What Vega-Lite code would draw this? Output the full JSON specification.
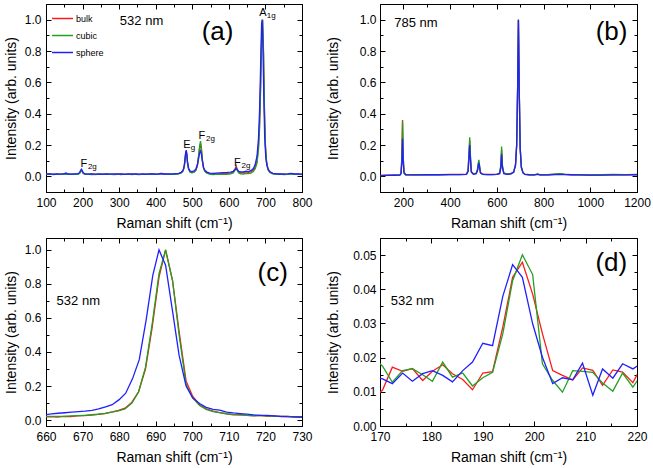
{
"$schema": "https://vega.github.io/schema/vega-lite/v6.json",
"background": "white",
"padding": {"left": 3, "top": 3, "right": 0, "bottom": 0},
"config": {
  "font": "Liberation Sans",
  "view": {"stroke": "black", "strokeWidth": 1},
  "axis": {"grid": false, "domainColor": "black", "tickColor": "black", "labelColor": "black", "titleColor": "black", "labelFontSize": 12, "titleFontSize": 14, "titleFontWeight": "normal", "labelFlush": false, "labelOverlap": false, "labelFont": "Liberation Sans", "titleFont": "Liberation Sans", "labelPadding": 10, "titlePadding": 6}
},
"datasets": {
"a": [
{"s":"bulk","x":100,"y":0.012},{"s":"bulk","x":110,"y":0.015},{"s":"bulk","x":120,"y":0.011},{"s":"bulk","x":130,"y":0.014},{"s":"bulk","x":140,"y":0.013},{"s":"bulk","x":150,"y":0.016},{"s":"bulk","x":160,"y":0.012},{"s":"bulk","x":170,"y":0.014},{"s":"bulk","x":180,"y":0.013},{"s":"bulk","x":188,"y":0.015},{"s":"bulk","x":192,"y":0.021},{"s":"bulk","x":195,"y":0.034},{"s":"bulk","x":197,"y":0.040},{"s":"bulk","x":199,"y":0.032},{"s":"bulk","x":202,"y":0.019},{"s":"bulk","x":207,"y":0.013},{"s":"bulk","x":215,"y":0.012},{"s":"bulk","x":225,"y":0.015},{"s":"bulk","x":235,"y":0.011},{"s":"bulk","x":245,"y":0.014},{"s":"bulk","x":255,"y":0.012},{"s":"bulk","x":265,"y":0.015},{"s":"bulk","x":275,"y":0.012},{"s":"bulk","x":285,"y":0.013},{"s":"bulk","x":295,"y":0.016},{"s":"bulk","x":305,"y":0.011},{"s":"bulk","x":315,"y":0.014},{"s":"bulk","x":325,"y":0.012},{"s":"bulk","x":335,"y":0.015},{"s":"bulk","x":345,"y":0.013},{"s":"bulk","x":355,"y":0.011},{"s":"bulk","x":365,"y":0.014},{"s":"bulk","x":375,"y":0.012},{"s":"bulk","x":385,"y":0.015},{"s":"bulk","x":395,"y":0.013},{"s":"bulk","x":405,"y":0.014},{"s":"bulk","x":415,"y":0.017},{"s":"bulk","x":425,"y":0.012},{"s":"bulk","x":435,"y":0.014},{"s":"bulk","x":445,"y":0.013},{"s":"bulk","x":455,"y":0.015},{"s":"bulk","x":463,"y":0.017},{"s":"bulk","x":470,"y":0.023},{"s":"bulk","x":475,"y":0.036},{"s":"bulk","x":478,"y":0.062},{"s":"bulk","x":480,"y":0.10},{"s":"bulk","x":482,"y":0.148},{"s":"bulk","x":483.5,"y":0.160},{"s":"bulk","x":485,"y":0.138},{"s":"bulk","x":487,"y":0.085},{"s":"bulk","x":490,"y":0.046},{"s":"bulk","x":494,"y":0.029},{"s":"bulk","x":499,"y":0.024},{"s":"bulk","x":505,"y":0.028},{"s":"bulk","x":510,"y":0.040},{"s":"bulk","x":514,"y":0.068},{"s":"bulk","x":517,"y":0.118},{"s":"bulk","x":520,"y":0.178},{"s":"bulk","x":522.5,"y":0.205},{"s":"bulk","x":525,"y":0.168},{"s":"bulk","x":528,"y":0.095},{"s":"bulk","x":531,"y":0.052},{"s":"bulk","x":535,"y":0.032},{"s":"bulk","x":540,"y":0.022},{"s":"bulk","x":548,"y":0.016},{"s":"bulk","x":556,"y":0.012},{"s":"bulk","x":565,"y":0.015},{"s":"bulk","x":575,"y":0.016},{"s":"bulk","x":585,"y":0.018},{"s":"bulk","x":595,"y":0.019},{"s":"bulk","x":605,"y":0.021},{"s":"bulk","x":612,"y":0.029},{"s":"bulk","x":617,"y":0.048},{"s":"bulk","x":620,"y":0.066},{"s":"bulk","x":623,"y":0.045},{"s":"bulk","x":627,"y":0.029},{"s":"bulk","x":632,"y":0.023},{"s":"bulk","x":640,"y":0.024},{"s":"bulk","x":647,"y":0.029},{"s":"bulk","x":653,"y":0.026},{"s":"bulk","x":660,"y":0.029},{"s":"bulk","x":667,"y":0.040},{"s":"bulk","x":672,"y":0.058},{"s":"bulk","x":677,"y":0.10},{"s":"bulk","x":681,"y":0.19},{"s":"bulk","x":684,"y":0.34},{"s":"bulk","x":687,"y":0.60},{"s":"bulk","x":689.5,"y":0.88},{"s":"bulk","x":692,"y":1.0},{"s":"bulk","x":694.5,"y":0.80},{"s":"bulk","x":697,"y":0.44},{"s":"bulk","x":700,"y":0.19},{"s":"bulk","x":703,"y":0.095},{"s":"bulk","x":707,"y":0.048},{"s":"bulk","x":712,"y":0.028},{"s":"bulk","x":720,"y":0.019},{"s":"bulk","x":730,"y":0.015},{"s":"bulk","x":740,"y":0.012},{"s":"bulk","x":750,"y":0.015},{"s":"bulk","x":760,"y":0.012},{"s":"bulk","x":770,"y":0.017},{"s":"bulk","x":780,"y":0.013},{"s":"bulk","x":790,"y":0.014},{"s":"bulk","x":800,"y":0.011},
{"s":"cubic","x":100,"y":0.014},{"s":"cubic","x":110,"y":0.012},{"s":"cubic","x":120,"y":0.016},{"s":"cubic","x":130,"y":0.013},{"s":"cubic","x":140,"y":0.012},{"s":"cubic","x":150,"y":0.014},{"s":"cubic","x":160,"y":0.013},{"s":"cubic","x":170,"y":0.012},{"s":"cubic","x":180,"y":0.015},{"s":"cubic","x":188,"y":0.013},{"s":"cubic","x":192,"y":0.019},{"s":"cubic","x":195,"y":0.031},{"s":"cubic","x":197,"y":0.037},{"s":"cubic","x":199,"y":0.030},{"s":"cubic","x":202,"y":0.018},{"s":"cubic","x":207,"y":0.012},{"s":"cubic","x":215,"y":0.014},{"s":"cubic","x":225,"y":0.011},{"s":"cubic","x":235,"y":0.013},{"s":"cubic","x":245,"y":0.012},{"s":"cubic","x":255,"y":0.015},{"s":"cubic","x":265,"y":0.012},{"s":"cubic","x":275,"y":0.014},{"s":"cubic","x":285,"y":0.011},{"s":"cubic","x":295,"y":0.013},{"s":"cubic","x":305,"y":0.015},{"s":"cubic","x":315,"y":0.012},{"s":"cubic","x":325,"y":0.014},{"s":"cubic","x":335,"y":0.011},{"s":"cubic","x":345,"y":0.014},{"s":"cubic","x":355,"y":0.013},{"s":"cubic","x":365,"y":0.012},{"s":"cubic","x":375,"y":0.015},{"s":"cubic","x":385,"y":0.012},{"s":"cubic","x":395,"y":0.014},{"s":"cubic","x":405,"y":0.012},{"s":"cubic","x":415,"y":0.019},{"s":"cubic","x":425,"y":0.013},{"s":"cubic","x":435,"y":0.012},{"s":"cubic","x":445,"y":0.015},{"s":"cubic","x":455,"y":0.013},{"s":"cubic","x":463,"y":0.015},{"s":"cubic","x":470,"y":0.021},{"s":"cubic","x":475,"y":0.034},{"s":"cubic","x":478,"y":0.060},{"s":"cubic","x":480,"y":0.098},{"s":"cubic","x":482,"y":0.145},{"s":"cubic","x":483.5,"y":0.157},{"s":"cubic","x":485,"y":0.135},{"s":"cubic","x":487,"y":0.082},{"s":"cubic","x":490,"y":0.043},{"s":"cubic","x":494,"y":0.026},{"s":"cubic","x":499,"y":0.022},{"s":"cubic","x":505,"y":0.027},{"s":"cubic","x":510,"y":0.041},{"s":"cubic","x":514,"y":0.072},{"s":"cubic","x":517,"y":0.13},{"s":"cubic","x":520,"y":0.195},{"s":"cubic","x":522.5,"y":0.225},{"s":"cubic","x":525,"y":0.18},{"s":"cubic","x":528,"y":0.098},{"s":"cubic","x":531,"y":0.05},{"s":"cubic","x":535,"y":0.030},{"s":"cubic","x":540,"y":0.020},{"s":"cubic","x":548,"y":0.014},{"s":"cubic","x":556,"y":0.011},{"s":"cubic","x":565,"y":0.013},{"s":"cubic","x":575,"y":0.012},{"s":"cubic","x":585,"y":0.014},{"s":"cubic","x":595,"y":0.013},{"s":"cubic","x":605,"y":0.015},{"s":"cubic","x":612,"y":0.022},{"s":"cubic","x":617,"y":0.040},{"s":"cubic","x":620,"y":0.055},{"s":"cubic","x":623,"y":0.038},{"s":"cubic","x":627,"y":0.022},{"s":"cubic","x":632,"y":0.016},{"s":"cubic","x":640,"y":0.015},{"s":"cubic","x":647,"y":0.019},{"s":"cubic","x":653,"y":0.017},{"s":"cubic","x":660,"y":0.020},{"s":"cubic","x":667,"y":0.030},{"s":"cubic","x":672,"y":0.048},{"s":"cubic","x":677,"y":0.085},{"s":"cubic","x":681,"y":0.17},{"s":"cubic","x":684,"y":0.31},{"s":"cubic","x":687,"y":0.57},{"s":"cubic","x":689.5,"y":0.86},{"s":"cubic","x":692.5,"y":1.0},{"s":"cubic","x":695,"y":0.78},{"s":"cubic","x":697.5,"y":0.42},{"s":"cubic","x":700,"y":0.20},{"s":"cubic","x":703,"y":0.09},{"s":"cubic","x":707,"y":0.042},{"s":"cubic","x":712,"y":0.024},{"s":"cubic","x":720,"y":0.015},{"s":"cubic","x":730,"y":0.012},{"s":"cubic","x":740,"y":0.014},{"s":"cubic","x":750,"y":0.011},{"s":"cubic","x":760,"y":0.013},{"s":"cubic","x":770,"y":0.016},{"s":"cubic","x":780,"y":0.012},{"s":"cubic","x":790,"y":0.013},{"s":"cubic","x":800,"y":0.012},
{"s":"sphere","x":100,"y":0.015},{"s":"sphere","x":110,"y":0.016},{"s":"sphere","x":120,"y":0.013},{"s":"sphere","x":130,"y":0.015},{"s":"sphere","x":140,"y":0.014},{"s":"sphere","x":150,"y":0.017},{"s":"sphere","x":155,"y":0.021},{"s":"sphere","x":160,"y":0.015},{"s":"sphere","x":170,"y":0.014},{"s":"sphere","x":180,"y":0.016},{"s":"sphere","x":188,"y":0.017},{"s":"sphere","x":192,"y":0.025},{"s":"sphere","x":195,"y":0.040},{"s":"sphere","x":197,"y":0.046},{"s":"sphere","x":199,"y":0.037},{"s":"sphere","x":202,"y":0.022},{"s":"sphere","x":207,"y":0.015},{"s":"sphere","x":215,"y":0.014},{"s":"sphere","x":225,"y":0.016},{"s":"sphere","x":235,"y":0.014},{"s":"sphere","x":245,"y":0.015},{"s":"sphere","x":255,"y":0.013},{"s":"sphere","x":265,"y":0.016},{"s":"sphere","x":275,"y":0.014},{"s":"sphere","x":285,"y":0.015},{"s":"sphere","x":295,"y":0.014},{"s":"sphere","x":305,"y":0.016},{"s":"sphere","x":315,"y":0.013},{"s":"sphere","x":325,"y":0.015},{"s":"sphere","x":335,"y":0.014},{"s":"sphere","x":345,"y":0.016},{"s":"sphere","x":355,"y":0.014},{"s":"sphere","x":365,"y":0.015},{"s":"sphere","x":375,"y":0.013},{"s":"sphere","x":385,"y":0.016},{"s":"sphere","x":395,"y":0.015},{"s":"sphere","x":405,"y":0.014},{"s":"sphere","x":415,"y":0.018},{"s":"sphere","x":425,"y":0.015},{"s":"sphere","x":435,"y":0.016},{"s":"sphere","x":445,"y":0.014},{"s":"sphere","x":455,"y":0.017},{"s":"sphere","x":463,"y":0.019},{"s":"sphere","x":470,"y":0.026},{"s":"sphere","x":475,"y":0.040},{"s":"sphere","x":478,"y":0.068},{"s":"sphere","x":480,"y":0.11},{"s":"sphere","x":482,"y":0.155},{"s":"sphere","x":483.5,"y":0.167},{"s":"sphere","x":485,"y":0.145},{"s":"sphere","x":487,"y":0.092},{"s":"sphere","x":490,"y":0.052},{"s":"sphere","x":494,"y":0.034},{"s":"sphere","x":499,"y":0.030},{"s":"sphere","x":505,"y":0.035},{"s":"sphere","x":510,"y":0.048},{"s":"sphere","x":514,"y":0.075},{"s":"sphere","x":517,"y":0.11},{"s":"sphere","x":520,"y":0.148},{"s":"sphere","x":522.5,"y":0.162},{"s":"sphere","x":525,"y":0.14},{"s":"sphere","x":528,"y":0.09},{"s":"sphere","x":531,"y":0.055},{"s":"sphere","x":535,"y":0.037},{"s":"sphere","x":540,"y":0.027},{"s":"sphere","x":548,"y":0.021},{"s":"sphere","x":556,"y":0.018},{"s":"sphere","x":565,"y":0.020},{"s":"sphere","x":575,"y":0.022},{"s":"sphere","x":585,"y":0.024},{"s":"sphere","x":595,"y":0.025},{"s":"sphere","x":605,"y":0.027},{"s":"sphere","x":612,"y":0.032},{"s":"sphere","x":617,"y":0.043},{"s":"sphere","x":620,"y":0.052},{"s":"sphere","x":623,"y":0.042},{"s":"sphere","x":627,"y":0.032},{"s":"sphere","x":632,"y":0.028},{"s":"sphere","x":640,"y":0.029},{"s":"sphere","x":647,"y":0.033},{"s":"sphere","x":653,"y":0.030},{"s":"sphere","x":660,"y":0.036},{"s":"sphere","x":667,"y":0.05},{"s":"sphere","x":672,"y":0.075},{"s":"sphere","x":677,"y":0.13},{"s":"sphere","x":681,"y":0.24},{"s":"sphere","x":684,"y":0.42},{"s":"sphere","x":687,"y":0.72},{"s":"sphere","x":689.5,"y":0.97},{"s":"sphere","x":691,"y":1.0},{"s":"sphere","x":693,"y":0.86},{"s":"sphere","x":695.5,"y":0.52},{"s":"sphere","x":698,"y":0.25},{"s":"sphere","x":701,"y":0.12},{"s":"sphere","x":704,"y":0.07},{"s":"sphere","x":708,"y":0.042},{"s":"sphere","x":713,"y":0.027},{"s":"sphere","x":720,"y":0.019},{"s":"sphere","x":730,"y":0.016},{"s":"sphere","x":740,"y":0.015},{"s":"sphere","x":750,"y":0.014},{"s":"sphere","x":760,"y":0.016},{"s":"sphere","x":770,"y":0.019},{"s":"sphere","x":780,"y":0.015},{"s":"sphere","x":790,"y":0.016},{"s":"sphere","x":800,"y":0.014}
],
"b": [
{"s":"bulk","x":100,"y":0.006},{"s":"bulk","x":130,"y":0.007},{"s":"bulk","x":160,"y":0.008},{"s":"bulk","x":185,"y":0.009},{"s":"bulk","x":190,"y":0.02},{"s":"bulk","x":193.5,"y":0.12},{"s":"bulk","x":196.5,"y":0.36},{"s":"bulk","x":199.5,"y":0.12},{"s":"bulk","x":203,"y":0.025},{"s":"bulk","x":210,"y":0.011},{"s":"bulk","x":250,"y":0.01},{"s":"bulk","x":300,"y":0.011},{"s":"bulk","x":350,"y":0.011},{"s":"bulk","x":400,"y":0.012},{"s":"bulk","x":440,"y":0.012},{"s":"bulk","x":470,"y":0.014},{"s":"bulk","x":477,"y":0.035},{"s":"bulk","x":480.5,"y":0.13},{"s":"bulk","x":484,"y":0.23},{"s":"bulk","x":487.5,"y":0.11},{"s":"bulk","x":491,"y":0.03},{"s":"bulk","x":500,"y":0.016},{"s":"bulk","x":512,"y":0.02},{"s":"bulk","x":518,"y":0.045},{"s":"bulk","x":521,"y":0.08},{"s":"bulk","x":523.5,"y":0.09},{"s":"bulk","x":526,"y":0.065},{"s":"bulk","x":530,"y":0.025},{"s":"bulk","x":540,"y":0.014},{"s":"bulk","x":560,"y":0.012},{"s":"bulk","x":580,"y":0.012},{"s":"bulk","x":600,"y":0.013},{"s":"bulk","x":612,"y":0.02},{"s":"bulk","x":617,"y":0.065},{"s":"bulk","x":620.5,"y":0.17},{"s":"bulk","x":624,"y":0.065},{"s":"bulk","x":630,"y":0.02},{"s":"bulk","x":645,"y":0.015},{"s":"bulk","x":660,"y":0.017},{"s":"bulk","x":672,"y":0.028},{"s":"bulk","x":680,"y":0.075},{"s":"bulk","x":685,"y":0.2},{"s":"bulk","x":689,"y":0.55},{"s":"bulk","x":692.5,"y":1.0},{"s":"bulk","x":696,"y":0.55},{"s":"bulk","x":700,"y":0.18},{"s":"bulk","x":705,"y":0.06},{"s":"bulk","x":712,"y":0.025},{"s":"bulk","x":720,"y":0.014},{"s":"bulk","x":740,"y":0.01},{"s":"bulk","x":760,"y":0.01},{"s":"bulk","x":775,"y":0.014},{"s":"bulk","x":785,"y":0.01},{"s":"bulk","x":820,"y":0.01},{"s":"bulk","x":850,"y":0.013},{"s":"bulk","x":870,"y":0.015},{"s":"bulk","x":890,"y":0.012},{"s":"bulk","x":920,"y":0.01},{"s":"bulk","x":960,"y":0.009},{"s":"bulk","x":1000,"y":0.008},{"s":"bulk","x":1050,"y":0.009},{"s":"bulk","x":1100,"y":0.011},{"s":"bulk","x":1150,"y":0.01},{"s":"bulk","x":1200,"y":0.011},
{"s":"cubic","x":100,"y":0.005},{"s":"cubic","x":130,"y":0.006},{"s":"cubic","x":160,"y":0.007},{"s":"cubic","x":185,"y":0.008},{"s":"cubic","x":190,"y":0.019},{"s":"cubic","x":193.5,"y":0.115},{"s":"cubic","x":196.5,"y":0.35},{"s":"cubic","x":199.5,"y":0.115},{"s":"cubic","x":203,"y":0.024},{"s":"cubic","x":210,"y":0.01},{"s":"cubic","x":250,"y":0.009},{"s":"cubic","x":300,"y":0.01},{"s":"cubic","x":350,"y":0.01},{"s":"cubic","x":400,"y":0.011},{"s":"cubic","x":440,"y":0.011},{"s":"cubic","x":470,"y":0.013},{"s":"cubic","x":477,"y":0.035},{"s":"cubic","x":480.5,"y":0.14},{"s":"cubic","x":484,"y":0.25},{"s":"cubic","x":487.5,"y":0.12},{"s":"cubic","x":491,"y":0.03},{"s":"cubic","x":500,"y":0.015},{"s":"cubic","x":512,"y":0.019},{"s":"cubic","x":518,"y":0.05},{"s":"cubic","x":521,"y":0.09},{"s":"cubic","x":523.5,"y":0.105},{"s":"cubic","x":526,"y":0.07},{"s":"cubic","x":530,"y":0.024},{"s":"cubic","x":540,"y":0.013},{"s":"cubic","x":560,"y":0.011},{"s":"cubic","x":580,"y":0.011},{"s":"cubic","x":600,"y":0.012},{"s":"cubic","x":612,"y":0.02},{"s":"cubic","x":617,"y":0.07},{"s":"cubic","x":620.5,"y":0.19},{"s":"cubic","x":624,"y":0.07},{"s":"cubic","x":630,"y":0.02},{"s":"cubic","x":645,"y":0.014},{"s":"cubic","x":660,"y":0.016},{"s":"cubic","x":672,"y":0.027},{"s":"cubic","x":680,"y":0.072},{"s":"cubic","x":685,"y":0.2},{"s":"cubic","x":689,"y":0.56},{"s":"cubic","x":692.5,"y":1.0},{"s":"cubic","x":696,"y":0.56},{"s":"cubic","x":700,"y":0.18},{"s":"cubic","x":705,"y":0.058},{"s":"cubic","x":712,"y":0.024},{"s":"cubic","x":720,"y":0.013},{"s":"cubic","x":740,"y":0.009},{"s":"cubic","x":760,"y":0.01},{"s":"cubic","x":775,"y":0.015},{"s":"cubic","x":785,"y":0.01},{"s":"cubic","x":820,"y":0.011},{"s":"cubic","x":850,"y":0.015},{"s":"cubic","x":870,"y":0.017},{"s":"cubic","x":890,"y":0.014},{"s":"cubic","x":920,"y":0.011},{"s":"cubic","x":960,"y":0.01},{"s":"cubic","x":1000,"y":0.009},{"s":"cubic","x":1050,"y":0.01},{"s":"cubic","x":1100,"y":0.012},{"s":"cubic","x":1150,"y":0.011},{"s":"cubic","x":1200,"y":0.013},
{"s":"sphere","x":100,"y":0.005},{"s":"sphere","x":130,"y":0.006},{"s":"sphere","x":160,"y":0.007},{"s":"sphere","x":185,"y":0.008},{"s":"sphere","x":190,"y":0.016},{"s":"sphere","x":193.5,"y":0.085},{"s":"sphere","x":196.5,"y":0.24},{"s":"sphere","x":199.5,"y":0.085},{"s":"sphere","x":203,"y":0.02},{"s":"sphere","x":210,"y":0.01},{"s":"sphere","x":250,"y":0.009},{"s":"sphere","x":300,"y":0.01},{"s":"sphere","x":350,"y":0.01},{"s":"sphere","x":400,"y":0.011},{"s":"sphere","x":440,"y":0.011},{"s":"sphere","x":470,"y":0.012},{"s":"sphere","x":477,"y":0.03},{"s":"sphere","x":480.5,"y":0.11},{"s":"sphere","x":484,"y":0.20},{"s":"sphere","x":487.5,"y":0.095},{"s":"sphere","x":491,"y":0.026},{"s":"sphere","x":500,"y":0.013},{"s":"sphere","x":512,"y":0.017},{"s":"sphere","x":518,"y":0.04},{"s":"sphere","x":521,"y":0.072},{"s":"sphere","x":523.5,"y":0.085},{"s":"sphere","x":526,"y":0.058},{"s":"sphere","x":530,"y":0.02},{"s":"sphere","x":540,"y":0.012},{"s":"sphere","x":560,"y":0.011},{"s":"sphere","x":580,"y":0.011},{"s":"sphere","x":600,"y":0.012},{"s":"sphere","x":612,"y":0.017},{"s":"sphere","x":617,"y":0.052},{"s":"sphere","x":620.5,"y":0.14},{"s":"sphere","x":624,"y":0.052},{"s":"sphere","x":630,"y":0.017},{"s":"sphere","x":645,"y":0.013},{"s":"sphere","x":660,"y":0.015},{"s":"sphere","x":672,"y":0.025},{"s":"sphere","x":680,"y":0.07},{"s":"sphere","x":685,"y":0.2},{"s":"sphere","x":689,"y":0.56},{"s":"sphere","x":692.5,"y":1.0},{"s":"sphere","x":696,"y":0.55},{"s":"sphere","x":700,"y":0.18},{"s":"sphere","x":705,"y":0.056},{"s":"sphere","x":712,"y":0.022},{"s":"sphere","x":720,"y":0.012},{"s":"sphere","x":740,"y":0.009},{"s":"sphere","x":760,"y":0.009},{"s":"sphere","x":775,"y":0.013},{"s":"sphere","x":785,"y":0.009},{"s":"sphere","x":820,"y":0.009},{"s":"sphere","x":850,"y":0.011},{"s":"sphere","x":870,"y":0.012},{"s":"sphere","x":890,"y":0.011},{"s":"sphere","x":920,"y":0.01},{"s":"sphere","x":960,"y":0.009},{"s":"sphere","x":1000,"y":0.008},{"s":"sphere","x":1050,"y":0.008},{"s":"sphere","x":1100,"y":0.009},{"s":"sphere","x":1150,"y":0.009},{"s":"sphere","x":1200,"y":0.01}
],
"c": [
{"s":"bulk","x":659.4,"y":0.018},{"s":"bulk","x":661.3,"y":0.020},{"s":"bulk","x":663.1,"y":0.017},{"s":"bulk","x":665.0,"y":0.021},{"s":"bulk","x":666.8,"y":0.020},{"s":"bulk","x":668.7,"y":0.024},{"s":"bulk","x":670.5,"y":0.026},{"s":"bulk","x":672.4,"y":0.029},{"s":"bulk","x":674.2,"y":0.033},{"s":"bulk","x":676.1,"y":0.038},{"s":"bulk","x":677.9,"y":0.047},{"s":"bulk","x":679.8,"y":0.057},{"s":"bulk","x":681.6,"y":0.07},{"s":"bulk","x":683.5,"y":0.105},{"s":"bulk","x":685.3,"y":0.165},{"s":"bulk","x":687.2,"y":0.30},{"s":"bulk","x":689.0,"y":0.54},{"s":"bulk","x":690.9,"y":0.84},{"s":"bulk","x":692.7,"y":1.0},{"s":"bulk","x":694.6,"y":0.82},{"s":"bulk","x":696.4,"y":0.52},{"s":"bulk","x":698.3,"y":0.23},{"s":"bulk","x":700.1,"y":0.14},{"s":"bulk","x":702.0,"y":0.09},{"s":"bulk","x":703.8,"y":0.066},{"s":"bulk","x":705.7,"y":0.052},{"s":"bulk","x":707.5,"y":0.044},{"s":"bulk","x":709.4,"y":0.036},{"s":"bulk","x":711.2,"y":0.030},{"s":"bulk","x":713.1,"y":0.032},{"s":"bulk","x":714.9,"y":0.027},{"s":"bulk","x":716.8,"y":0.024},{"s":"bulk","x":718.6,"y":0.027},{"s":"bulk","x":720.5,"y":0.022},{"s":"bulk","x":722.3,"y":0.025},{"s":"bulk","x":724.2,"y":0.020},{"s":"bulk","x":726.0,"y":0.022},{"s":"bulk","x":727.9,"y":0.018},{"s":"bulk","x":729.7,"y":0.019},{"s":"bulk","x":731.6,"y":0.016},
{"s":"cubic","x":659.4,"y":0.022},{"s":"cubic","x":661.3,"y":0.022},{"s":"cubic","x":663.1,"y":0.021},{"s":"cubic","x":665.0,"y":0.022},{"s":"cubic","x":666.8,"y":0.024},{"s":"cubic","x":668.7,"y":0.026},{"s":"cubic","x":670.5,"y":0.028},{"s":"cubic","x":672.4,"y":0.031},{"s":"cubic","x":674.2,"y":0.034},{"s":"cubic","x":676.1,"y":0.039},{"s":"cubic","x":677.9,"y":0.046},{"s":"cubic","x":679.8,"y":0.054},{"s":"cubic","x":681.6,"y":0.065},{"s":"cubic","x":683.5,"y":0.10},{"s":"cubic","x":685.3,"y":0.165},{"s":"cubic","x":687.2,"y":0.31},{"s":"cubic","x":689.0,"y":0.56},{"s":"cubic","x":690.9,"y":0.86},{"s":"cubic","x":692.7,"y":1.0},{"s":"cubic","x":694.6,"y":0.82},{"s":"cubic","x":696.4,"y":0.50},{"s":"cubic","x":698.3,"y":0.21},{"s":"cubic","x":700.1,"y":0.13},{"s":"cubic","x":702.0,"y":0.085},{"s":"cubic","x":703.8,"y":0.062},{"s":"cubic","x":705.7,"y":0.05},{"s":"cubic","x":707.5,"y":0.043},{"s":"cubic","x":709.4,"y":0.037},{"s":"cubic","x":711.2,"y":0.033},{"s":"cubic","x":713.1,"y":0.030},{"s":"cubic","x":714.9,"y":0.028},{"s":"cubic","x":716.8,"y":0.026},{"s":"cubic","x":718.6,"y":0.026},{"s":"cubic","x":720.5,"y":0.024},{"s":"cubic","x":722.3,"y":0.022},{"s":"cubic","x":724.2,"y":0.021},{"s":"cubic","x":726.0,"y":0.021},{"s":"cubic","x":727.9,"y":0.019},{"s":"cubic","x":729.7,"y":0.017},{"s":"cubic","x":731.6,"y":0.016},
{"s":"sphere","x":659.6,"y":0.031},{"s":"sphere","x":661.5,"y":0.036},{"s":"sphere","x":663.3,"y":0.040},{"s":"sphere","x":665.2,"y":0.043},{"s":"sphere","x":667.0,"y":0.046},{"s":"sphere","x":668.9,"y":0.049},{"s":"sphere","x":670.7,"y":0.052},{"s":"sphere","x":672.6,"y":0.057},{"s":"sphere","x":674.4,"y":0.065},{"s":"sphere","x":676.3,"y":0.078},{"s":"sphere","x":678.1,"y":0.090},{"s":"sphere","x":680.0,"y":0.12},{"s":"sphere","x":681.8,"y":0.158},{"s":"sphere","x":683.7,"y":0.245},{"s":"sphere","x":685.5,"y":0.355},{"s":"sphere","x":687.4,"y":0.59},{"s":"sphere","x":689.2,"y":0.85},{"s":"sphere","x":690.9,"y":1.0},{"s":"sphere","x":692.7,"y":0.91},{"s":"sphere","x":694.6,"y":0.64},{"s":"sphere","x":696.4,"y":0.38},{"s":"sphere","x":698.3,"y":0.20},{"s":"sphere","x":700.1,"y":0.13},{"s":"sphere","x":702.0,"y":0.097},{"s":"sphere","x":703.8,"y":0.075},{"s":"sphere","x":705.7,"y":0.063},{"s":"sphere","x":707.5,"y":0.058},{"s":"sphere","x":709.4,"y":0.047},{"s":"sphere","x":711.2,"y":0.042},{"s":"sphere","x":713.1,"y":0.038},{"s":"sphere","x":714.9,"y":0.035},{"s":"sphere","x":716.8,"y":0.030},{"s":"sphere","x":718.6,"y":0.028},{"s":"sphere","x":720.5,"y":0.027},{"s":"sphere","x":722.3,"y":0.025},{"s":"sphere","x":724.2,"y":0.022},{"s":"sphere","x":726.0,"y":0.020},{"s":"sphere","x":727.9,"y":0.019},{"s":"sphere","x":729.7,"y":0.018},{"s":"sphere","x":731.6,"y":0.017}
],
"d": [
{"s":"bulk","x":168.6,"y":0.008},{"s":"bulk","x":170.5,"y":0.0105},{"s":"bulk","x":172.4,"y":0.0172},{"s":"bulk","x":174.4,"y":0.016},{"s":"bulk","x":176.3,"y":0.0168},{"s":"bulk","x":178.3,"y":0.0133},{"s":"bulk","x":180.2,"y":0.016},{"s":"bulk","x":182.2,"y":0.0179},{"s":"bulk","x":184.1,"y":0.0153},{"s":"bulk","x":186.1,"y":0.0136},{"s":"bulk","x":188.0,"y":0.0106},{"s":"bulk","x":190.0,"y":0.0155},{"s":"bulk","x":191.9,"y":0.0159},{"s":"bulk","x":193.9,"y":0.029},{"s":"bulk","x":195.8,"y":0.0435},{"s":"bulk","x":197.7,"y":0.0479},{"s":"bulk","x":199.7,"y":0.0386},{"s":"bulk","x":201.6,"y":0.027},{"s":"bulk","x":203.6,"y":0.0162},{"s":"bulk","x":205.5,"y":0.0148},{"s":"bulk","x":207.5,"y":0.0135},{"s":"bulk","x":209.4,"y":0.017},{"s":"bulk","x":211.4,"y":0.0163},{"s":"bulk","x":213.3,"y":0.0119},{"s":"bulk","x":215.3,"y":0.0164},{"s":"bulk","x":217.2,"y":0.0158},{"s":"bulk","x":219.2,"y":0.0127},{"s":"bulk","x":221.1,"y":0.018},
{"s":"cubic","x":168.6,"y":0.02},{"s":"cubic","x":170.5,"y":0.0175},{"s":"cubic","x":172.4,"y":0.0128},{"s":"cubic","x":174.4,"y":0.0162},{"s":"cubic","x":176.3,"y":0.0168},{"s":"cubic","x":178.3,"y":0.015},{"s":"cubic","x":180.2,"y":0.0131},{"s":"cubic","x":182.2,"y":0.0187},{"s":"cubic","x":184.1,"y":0.0143},{"s":"cubic","x":186.1,"y":0.0155},{"s":"cubic","x":188.0,"y":0.0117},{"s":"cubic","x":190.0,"y":0.0141},{"s":"cubic","x":191.9,"y":0.0157},{"s":"cubic","x":193.9,"y":0.027},{"s":"cubic","x":195.8,"y":0.0425},{"s":"cubic","x":197.7,"y":0.0501},{"s":"cubic","x":199.7,"y":0.0443},{"s":"cubic","x":201.6,"y":0.0182},{"s":"cubic","x":203.6,"y":0.0133},{"s":"cubic","x":205.5,"y":0.0099},{"s":"cubic","x":207.5,"y":0.0162},{"s":"cubic","x":209.4,"y":0.016},{"s":"cubic","x":211.4,"y":0.0157},{"s":"cubic","x":213.3,"y":0.0126},{"s":"cubic","x":215.3,"y":0.0102},{"s":"cubic","x":217.2,"y":0.0155},{"s":"cubic","x":219.2,"y":0.0114},{"s":"cubic","x":221.1,"y":0.0155},
{"s":"sphere","x":168.6,"y":0.0145},{"s":"sphere","x":170.5,"y":0.0138},{"s":"sphere","x":172.4,"y":0.0124},{"s":"sphere","x":174.4,"y":0.0155},{"s":"sphere","x":176.3,"y":0.0131},{"s":"sphere","x":178.3,"y":0.0153},{"s":"sphere","x":180.2,"y":0.0162},{"s":"sphere","x":182.2,"y":0.0148},{"s":"sphere","x":184.1,"y":0.0129},{"s":"sphere","x":186.1,"y":0.0162},{"s":"sphere","x":188.0,"y":0.0187},{"s":"sphere","x":190.0,"y":0.0242},{"s":"sphere","x":191.9,"y":0.0235},{"s":"sphere","x":193.9,"y":0.038},{"s":"sphere","x":195.8,"y":0.0472},{"s":"sphere","x":197.7,"y":0.0435},{"s":"sphere","x":199.7,"y":0.0299},{"s":"sphere","x":201.6,"y":0.0201},{"s":"sphere","x":203.6,"y":0.0124},{"s":"sphere","x":205.5,"y":0.0141},{"s":"sphere","x":207.5,"y":0.0135},{"s":"sphere","x":209.4,"y":0.0184},{"s":"sphere","x":211.4,"y":0.009},{"s":"sphere","x":213.3,"y":0.0167},{"s":"sphere","x":215.3,"y":0.014},{"s":"sphere","x":217.2,"y":0.0182},{"s":"sphere","x":219.2,"y":0.0167},{"s":"sphere","x":221.1,"y":0.0185}
]
},
"resolve": {"scale": {"color": "independent"}, "legend": {"color": "independent"}},
"columns": 2,
"spacing": {"column": 12, "row": 6},
"concat": [
{
 "width": 256, "height": 188,
 "resolve": {"axis": {"x": "independent", "y": "independent"}},
 "layer": [
  {"data": {"name": "a"}, "mark": {"type": "line", "strokeWidth": 1.3, "clip": true},
   "encoding": {
    "x": {"field": "x", "type": "quantitative", "scale": {"domain": [100, 800], "nice": false, "zero": false},
      "axis": {"values": [100,150,200,250,300,350,400,450,500,550,600,650,700,750,800], "format": "d", "labelExpr": "datum.value % 100 === 0 ? datum.label : ''", "tickSize": {"condition": {"test": "datum.value % 100 === 0", "value": -5}, "value": -3}, "title": "Raman shift (cm⁻¹)"}},
    "y": {"field": "y", "type": "quantitative", "scale": {"domain": [-0.1, 1.1], "nice": false, "zero": false},
      "axis": {"values": [0,0.1,0.2,0.3,0.4,0.5,0.6,0.7,0.8,0.9,1.0], "format": ".1f", "labelExpr": "abs(datum.value*5 - round(datum.value*5)) < 0.001 ? datum.label : ''", "tickSize": {"condition": {"test": "abs(datum.value*5 - round(datum.value*5)) < 0.001", "value": -5}, "value": -3}, "title": "Intensity (arb. units)"}},
    "color": {"field": "s", "type": "nominal", "scale": {"domain": ["bulk","cubic","sphere"], "range": ["#ff1a1a","#22a022","#2020ff"]},
      "legend": {"orient": "none", "legendX": 5, "legendY": 3, "title": null, "symbolType": "stroke", "symbolSize": 440, "symbolStrokeWidth": 1.5, "labelFontSize": 9, "rowPadding": -9, "labelOffset": 2, "padding": 0}}
   }},
  {"data": {"name": "a"}, "mark": {"type": "line", "opacity": 0},
   "encoding": {
    "x": {"field": "x", "type": "quantitative", "axis": {"orient": "top", "values": [100,150,200,250,300,350,400,450,500,550,600,650,700,750,800], "labels": false, "title": null, "tickSize": {"condition": {"test": "datum.value % 100 === 0", "value": -5}, "value": -3}}},
    "y": {"field": "y", "type": "quantitative", "axis": {"orient": "right", "values": [0,0.1,0.2,0.3,0.4,0.5,0.6,0.7,0.8,0.9,1.0], "labels": false, "title": null, "tickSize": {"condition": {"test": "abs(datum.value*5 - round(datum.value*5)) < 0.001", "value": -5}, "value": -3}}},
    "detail": {"field": "s"}
   }},
  {"data": {"values": [{"x": 302, "y": 0.99, "t": "532 nm"}]}, "mark": {"type": "text", "align": "left", "baseline": "middle", "fontSize": 13},
   "encoding": {"x": {"field": "x", "type": "quantitative", "axis": null}, "y": {"field": "y", "type": "quantitative", "axis": null}, "text": {"field": "t"}}},
  {"data": {"values": [{"x": 569, "y": 0.92, "t": "(a)"}]}, "mark": {"type": "text", "align": "center", "baseline": "middle", "fontSize": 26},
   "encoding": {"x": {"field": "x", "type": "quantitative", "axis": null}, "y": {"field": "y", "type": "quantitative", "axis": null}, "text": {"field": "t"}}},
  {"data": {"values": [{"x": 194, "y": 0.08, "m": "F", "s": "2g"}, {"x": 475, "y": 0.2, "m": "E", "s": "g"}, {"x": 517, "y": 0.255, "m": "F", "s": "2g"}, {"x": 614, "y": 0.085, "m": "F", "s": "2g"}, {"x": 683, "y": 1.04, "m": "A", "s": "1g"}]},
   "mark": {"type": "text", "align": "left", "baseline": "middle", "fontSize": 11},
   "encoding": {"x": {"field": "x", "type": "quantitative", "axis": null}, "y": {"field": "y", "type": "quantitative", "axis": null}, "text": {"field": "m"}}},
  {"data": {"values": [{"x": 194, "y": 0.08, "m": "F", "s": "2g"}, {"x": 475, "y": 0.2, "m": "E", "s": "g"}, {"x": 517, "y": 0.255, "m": "F", "s": "2g"}, {"x": 614, "y": 0.085, "m": "F", "s": "2g"}, {"x": 683, "y": 1.04, "m": "A", "s": "1g"}]},
   "mark": {"type": "text", "align": "left", "baseline": "middle", "fontSize": 8, "dx": 7.5, "dy": 3},
   "encoding": {"x": {"field": "x", "type": "quantitative", "axis": null}, "y": {"field": "y", "type": "quantitative", "axis": null}, "text": {"field": "s"}}}
 ]
},
{
 "width": 257, "height": 188,
 "resolve": {"axis": {"x": "independent", "y": "independent"}},
 "layer": [
  {"data": {"name": "b"}, "mark": {"type": "line", "strokeWidth": 1.3, "clip": true},
   "encoding": {
    "x": {"field": "x", "type": "quantitative", "scale": {"domain": [100, 1200], "nice": false, "zero": false},
      "axis": {"values": [200,300,400,500,600,700,800,900,1000,1100,1200], "format": "d", "labelExpr": "datum.value % 200 === 0 ? datum.label : ''", "tickSize": {"condition": {"test": "datum.value % 200 === 0", "value": -5}, "value": -3}, "title": "Raman shift (cm⁻¹)"}},
    "y": {"field": "y", "type": "quantitative", "scale": {"domain": [-0.1, 1.1], "nice": false, "zero": false},
      "axis": {"values": [0,0.1,0.2,0.3,0.4,0.5,0.6,0.7,0.8,0.9,1.0], "format": ".1f", "labelExpr": "abs(datum.value*5 - round(datum.value*5)) < 0.001 ? datum.label : ''", "tickSize": {"condition": {"test": "abs(datum.value*5 - round(datum.value*5)) < 0.001", "value": -5}, "value": -3}, "title": "Intensity (arb. units)", "labelPadding": 9, "titlePadding": 19}},
    "color": {"field": "s", "type": "nominal", "scale": {"domain": ["bulk","cubic","sphere"], "range": ["#ff1a1a","#22a022","#2020ff"]}, "legend": null}
   }},
  {"data": {"name": "b"}, "mark": {"type": "line", "opacity": 0},
   "encoding": {
    "x": {"field": "x", "type": "quantitative", "axis": {"orient": "top", "values": [200,300,400,500,600,700,800,900,1000,1100,1200], "labels": false, "title": null, "tickSize": {"condition": {"test": "datum.value % 200 === 0", "value": -5}, "value": -3}}},
    "y": {"field": "y", "type": "quantitative", "axis": {"orient": "right", "values": [0,0.1,0.2,0.3,0.4,0.5,0.6,0.7,0.8,0.9,1.0], "labels": false, "title": null, "tickSize": {"condition": {"test": "abs(datum.value*5 - round(datum.value*5)) < 0.001", "value": -5}, "value": -3}}},
    "detail": {"field": "s"}
   }},
  {"data": {"values": [{"x": 161, "y": 0.98, "t": "785 nm"}]}, "mark": {"type": "text", "align": "left", "baseline": "middle", "fontSize": 13},
   "encoding": {"x": {"field": "x", "type": "quantitative", "axis": null}, "y": {"field": "y", "type": "quantitative", "axis": null}, "text": {"field": "t"}}},
  {"data": {"values": [{"x": 1091, "y": 0.92, "t": "(b)"}]}, "mark": {"type": "text", "align": "center", "baseline": "middle", "fontSize": 26},
   "encoding": {"x": {"field": "x", "type": "quantitative", "axis": null}, "y": {"field": "y", "type": "quantitative", "axis": null}, "text": {"field": "t"}}}
 ]
},
{
 "width": 256, "height": 188,
 "resolve": {"axis": {"x": "independent", "y": "independent"}},
 "layer": [
  {"data": {"name": "c"}, "mark": {"type": "line", "strokeWidth": 1.3, "clip": true},
   "encoding": {
    "x": {"field": "x", "type": "quantitative", "scale": {"domain": [660, 730], "nice": false, "zero": false},
      "axis": {"values": [660,665,670,675,680,685,690,695,700,705,710,715,720,725,730], "format": "d", "labelExpr": "datum.value % 10 === 0 ? datum.label : ''", "tickSize": {"condition": {"test": "datum.value % 10 === 0", "value": -5}, "value": -3}, "title": "Raman shift (cm⁻¹)"}},
    "y": {"field": "y", "type": "quantitative", "scale": {"domain": [-0.035, 1.07], "nice": false, "zero": false},
      "axis": {"values": [0,0.1,0.2,0.3,0.4,0.5,0.6,0.7,0.8,0.9,1.0], "format": ".1f", "labelExpr": "abs(datum.value*5 - round(datum.value*5)) < 0.001 ? datum.label : ''", "tickSize": {"condition": {"test": "abs(datum.value*5 - round(datum.value*5)) < 0.001", "value": -5}, "value": -3}, "title": "Intensity (arb. units)"}},
    "color": {"field": "s", "type": "nominal", "scale": {"domain": ["bulk","cubic","sphere"], "range": ["#ff1a1a","#22a022","#2020ff"]}, "legend": null}
   }},
  {"data": {"name": "c"}, "mark": {"type": "line", "opacity": 0},
   "encoding": {
    "x": {"field": "x", "type": "quantitative", "axis": {"orient": "top", "values": [660,665,670,675,680,685,690,695,700,705,710,715,720,725,730], "labels": false, "title": null, "tickSize": {"condition": {"test": "datum.value % 10 === 0", "value": -5}, "value": -3}}},
    "y": {"field": "y", "type": "quantitative", "axis": {"orient": "right", "values": [0,0.1,0.2,0.3,0.4,0.5,0.6,0.7,0.8,0.9,1.0], "labels": false, "title": null, "tickSize": {"condition": {"test": "abs(datum.value*5 - round(datum.value*5)) < 0.001", "value": -5}, "value": -3}}},
    "detail": {"field": "s"}
   }},
  {"data": {"values": [{"x": 662.9, "y": 0.70, "t": "532 nm"}]}, "mark": {"type": "text", "align": "left", "baseline": "middle", "fontSize": 13},
   "encoding": {"x": {"field": "x", "type": "quantitative", "axis": null}, "y": {"field": "y", "type": "quantitative", "axis": null}, "text": {"field": "t"}}},
  {"data": {"values": [{"x": 722, "y": 0.863, "t": "(c)"}]}, "mark": {"type": "text", "align": "center", "baseline": "middle", "fontSize": 26},
   "encoding": {"x": {"field": "x", "type": "quantitative", "axis": null}, "y": {"field": "y", "type": "quantitative", "axis": null}, "text": {"field": "t"}}}
 ]
},
{
 "width": 257, "height": 188,
 "resolve": {"axis": {"x": "independent", "y": "independent"}},
 "layer": [
  {"data": {"name": "d"}, "mark": {"type": "line", "strokeWidth": 1.3, "clip": true},
   "encoding": {
    "x": {"field": "x", "type": "quantitative", "scale": {"domain": [170, 220], "nice": false, "zero": false},
      "axis": {"values": [170,175,180,185,190,195,200,205,210,215,220], "format": "d", "labelExpr": "datum.value % 10 === 0 ? datum.label : ''", "tickSize": {"condition": {"test": "datum.value % 10 === 0", "value": -5}, "value": -3}, "title": "Raman shift (cm⁻¹)"}},
    "y": {"field": "y", "type": "quantitative", "scale": {"domain": [0, 0.055], "nice": false, "zero": false},
      "axis": {"values": [0,0.005,0.01,0.015,0.02,0.025,0.03,0.035,0.04,0.045,0.05], "format": ".2f", "labelExpr": "abs(datum.value*100 - round(datum.value*100)) < 0.001 ? datum.label : ''", "tickSize": {"condition": {"test": "abs(datum.value*100 - round(datum.value*100)) < 0.001", "value": -5}, "value": -3}, "title": "Intensity (arb. units)", "labelPadding": 9, "titlePadding": 12}},
    "color": {"field": "s", "type": "nominal", "scale": {"domain": ["bulk","cubic","sphere"], "range": ["#ff1a1a","#22a022","#2020ff"]}, "legend": null}
   }},
  {"data": {"name": "d"}, "mark": {"type": "line", "opacity": 0},
   "encoding": {
    "x": {"field": "x", "type": "quantitative", "axis": {"orient": "top", "values": [170,175,180,185,190,195,200,205,210,215,220], "labels": false, "title": null, "tickSize": {"condition": {"test": "datum.value % 10 === 0", "value": -5}, "value": -3}}},
    "y": {"field": "y", "type": "quantitative", "axis": {"orient": "right", "values": [0,0.005,0.01,0.015,0.02,0.025,0.03,0.035,0.04,0.045,0.05], "labels": false, "title": null, "tickSize": {"condition": {"test": "abs(datum.value*100 - round(datum.value*100)) < 0.001", "value": -5}, "value": -3}}},
    "detail": {"field": "s"}
   }},
  {"data": {"values": [{"x": 172.1, "y": 0.0367, "t": "532 nm"}]}, "mark": {"type": "text", "align": "left", "baseline": "middle", "fontSize": 13},
   "encoding": {"x": {"field": "x", "type": "quantitative", "axis": null}, "y": {"field": "y", "type": "quantitative", "axis": null}, "text": {"field": "t"}}},
  {"data": {"values": [{"x": 215, "y": 0.0477, "t": "(d)"}]}, "mark": {"type": "text", "align": "center", "baseline": "middle", "fontSize": 26},
   "encoding": {"x": {"field": "x", "type": "quantitative", "axis": null}, "y": {"field": "y", "type": "quantitative", "axis": null}, "text": {"field": "t"}}}
 ]
}
]
}
